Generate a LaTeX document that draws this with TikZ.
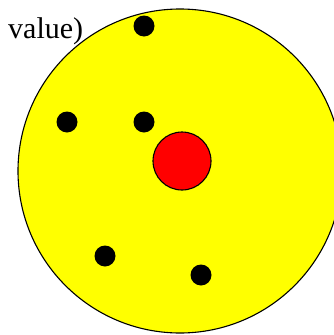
\documentclass[tikz,border=0pt]{standalone}
\usepackage{fontspec}
\setmainfont{Liberation Serif}
\usepackage{tikz}
\usetikzlibrary{positioning}
\definecolor{cellyellow}{RGB}{255,255,0}
\definecolor{corered}{RGB}{255,0,0}

\begin{document}
\begin{tikzpicture}[
        x=1pt, y=-1pt,
        cell/.style={circle, draw=black, line width=1.1pt, fill=cellyellow, minimum size=324pt, inner sep=0pt},
        core/.style={circle, draw=black, line width=1.1pt, fill=corered, minimum size=58pt, inner sep=0pt},
        dot/.style={circle, fill=black, minimum size=21pt, inner sep=0pt}
    ]
        \useasboundingbox (0,0) rectangle (333,335);

        \node[cell] (cell) at (180,171) {};
        \node[core] (core) at (182,161) {};

        % particles
        \node[dot] (p1) at (144,26)  {};
        \node[dot] (p2) at (67,122)  {};
        \node[dot] (p3) at (144,122) {};
        \node[dot] (p4) at (105,256) {};
        \node[dot] (p5) at (201,275) {};

        \node[font=\fontsize{30}{33}\selectfont, anchor=base west, inner sep=0pt] (label) at (8,38) {value)};
    \end{tikzpicture}
\end{document}
